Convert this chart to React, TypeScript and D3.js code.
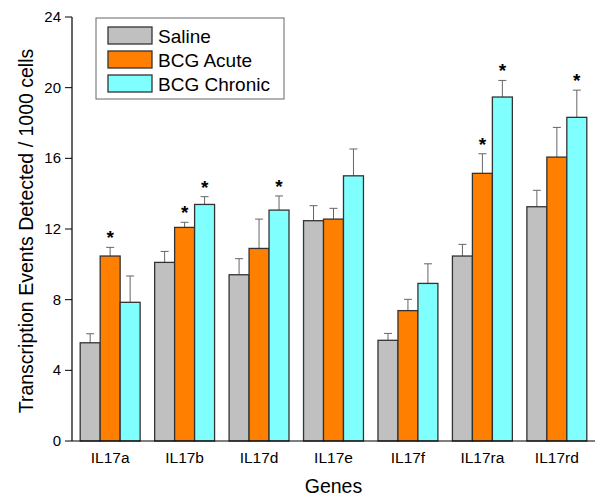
import React from "react";
import * as d3 from "d3";

const genes = ["IL17a", "IL17b", "IL17d", "IL17e", "IL17f", "IL17ra", "IL17rd"];
const seriesNames = ["Saline", "BCG Acute", "BCG Chronic"];
const seriesColors = ["#c0c0c0", "#ff8000", "#80ffff"];
const salineMean = [5.56, 10.11, 9.41, 12.47, 5.7, 10.47, 13.26];
const salineErr = [6.07, 10.73, 10.32, 13.32, 6.09, 11.13, 14.19];
const acuteMean = [10.47, 12.09, 10.9, 12.56, 7.38, 15.15, 16.07];
const acuteErr = [10.96, 12.38, 12.56, 13.17, 8.02, 16.26, 17.75];
const chronicMean = [7.85, 13.39, 13.07, 15.01, 8.92, 19.47, 18.32];
const chronicErr = [9.34, 13.83, 13.87, 16.53, 10.03, 20.41, 19.86];
const acuteStar = [true, true, false, false, false, true, false];
const chronicStar = [false, true, true, false, false, true, true];
const yTicks = [0, 4, 8, 12, 16, 20, 24];

export default function App() {
  const W = 600, H = 502;
  const x0 = 72, x1 = 595, yTop = 17, yBot = 441;
  const y = d3.scaleLinear().domain([0, 24]).range([yBot, yTop]);
  const xb = d3.scaleBand<string>().domain(genes).range([x0, x1]).paddingInner(0.195).paddingOuter(0.11);
  const xs = d3.scaleBand<number>().domain([0, 1, 2]).range([0, xb.bandwidth()]);
  const means = [salineMean, acuteMean, chronicMean];
  const errs = [salineErr, acuteErr, chronicErr];
  const stars = [genes.map(() => false), acuteStar, chronicStar];
  const font = "Arial, 'Liberation Sans', sans-serif";

  return (
    <svg width={W} height={H} style={{ position: "absolute", left: 0, top: 0, background: "#fff" }} fontFamily={font}>
      <rect x={0} y={0} width={W} height={H} fill="#fff" />
      {genes.map((g, gi) =>
        [0, 1, 2].map((si) => {
          const bx = (xb(g) as number) + (xs(si) as number);
          const bw = xs.bandwidth();
          const cx = bx + bw / 2;
          const top = y(means[si][gi]);
          const et = y(errs[si][gi]);
          return (
            <g key={g + si}>
              <line x1={cx} x2={cx} y1={top} y2={et} stroke="#666" strokeWidth={1} />
              <line x1={cx - 4} x2={cx + 4} y1={et} y2={et} stroke="#666" strokeWidth={1} />
              <rect x={bx} y={top} width={bw} height={yBot - top} fill={seriesColors[si]} stroke="#333" strokeWidth={1.3} />
              {stars[si][gi] && (
                <text x={cx} y={et - 3} textAnchor="middle" fontSize={19} fontWeight="bold" fill="#000">*</text>
              )}
            </g>
          );
        })
      )}
      <line x1={x0} x2={x0} y1={yTop} y2={yBot} stroke="#000" strokeWidth={1.2} />
      <line x1={x0} x2={x1} y1={yBot} y2={yBot} stroke="#000" strokeWidth={1.2} />
      {yTicks.map((t) => (
        <g key={t}>
          <line x1={x0 - 7} x2={x0} y1={y(t)} y2={y(t)} stroke="#000" strokeWidth={1} />
          <text x={x0 - 11} y={y(t) + 5} textAnchor="end" fontSize={15} fill="#000">{t}</text>
        </g>
      ))}
      {genes.map((g) => (
        <text key={g} x={(xb(g) as number) + xb.bandwidth() / 2} y={463} textAnchor="middle" fontSize={15.5} fill="#000">{g}</text>
      ))}
      <text x={(x0 + x1) / 2} y={493} textAnchor="middle" fontSize={19.5} fill="#000">Genes</text>
      <text transform={`translate(33, ${231}) rotate(-90)`} textAnchor="middle" fontSize={19.5} fill="#000">
        Transcription Events Detected / 1000 cells
      </text>
      <rect x={96} y={18} width={188} height={81} fill="#fff" stroke="#666" strokeWidth={1} />
      {seriesNames.map((n, i) => (
        <g key={n}>
          <rect x={108} y={27 + i * 24} width={44} height={17} fill={seriesColors[i]} stroke="#333" strokeWidth={1.3} />
          <text x={158} y={43 + i * 24} fontSize={19} fill="#000">{n}</text>
        </g>
      ))}
    </svg>
  );
}
